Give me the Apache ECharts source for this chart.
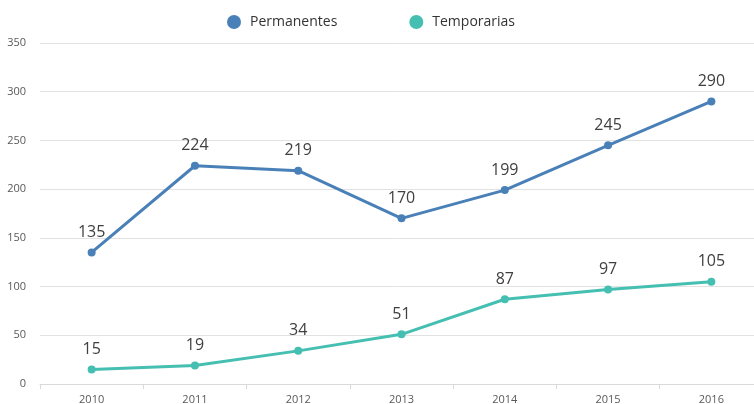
<!DOCTYPE html>
<html>
<head>
<meta charset="utf-8">
<script src="https://cdn.jsdelivr.net/npm/echarts@6/dist/echarts.min.js"></script>
<style>
  html, body { margin: 0; padding: 0; background: #fff; }
  #chart { width: 754px; height: 404px; }
</style>
</head>
<body>
<div id="chart"></div>
<script>
var years = ['2010', '2011', '2012', '2013', '2014', '2015', '2016'];
var permanentes = [135, 224, 219, 170, 199, 245, 290];
var temporarias = [15, 19, 34, 51, 87, 97, 105];

var chart = echarts.init(document.getElementById('chart'));

var labelStyle = {
    show: true,
    position: 'top',
    distance: 8,
    color: '#404040',
    fontSize: 16,
    fontFamily: 'Open Sans'
};

chart.setOption({
    animation: false,
    color: ['#4a80b8', '#45bfb1'],
    legend: {
        top: 10,
        left: 222,
        itemGap: 72,
        icon: 'circle',
        itemWidth: 14,
        itemHeight: 14,
        textStyle: { color: '#333', fontSize: 14, fontFamily: 'Open Sans', padding: [0, 0, 0, 4] },
        data: ['Permanentes', 'Temporarias']
    },
    grid: {
        left: 40,
        width: 723,
        top: 43,
        height: 341,
        outerBoundsMode: 'none',
        containLabel: false
    },
    xAxis: {
        type: 'category',
        data: years,
        axisLine: { lineStyle: { color: '#d9d9d9' } },
        axisTick: { show: true, lineStyle: { color: '#d9d9d9' } },
        axisLabel: { color: '#595959', fontSize: 11, fontFamily: 'Open Sans', margin: 10 }
    },
    yAxis: {
        type: 'value',
        min: 0,
        max: 350,
        interval: 50,
        axisLine: { show: false },
        axisTick: { show: false },
        axisLabel: { color: '#595959', fontSize: 11, fontFamily: 'Open Sans', margin: 14 },
        splitLine: { lineStyle: { color: '#e2e2e2' } }
    },
    series: [
        {
            name: 'Permanentes',
            type: 'line',
            data: permanentes,
            symbol: 'circle',
            symbolSize: 8,
            lineStyle: { width: 3 },
            label: labelStyle
        },
        {
            name: 'Temporarias',
            type: 'line',
            data: temporarias,
            symbol: 'circle',
            symbolSize: 8,
            lineStyle: { width: 3 },
            label: labelStyle
        }
    ]
});
</script>
</body>
</html>
